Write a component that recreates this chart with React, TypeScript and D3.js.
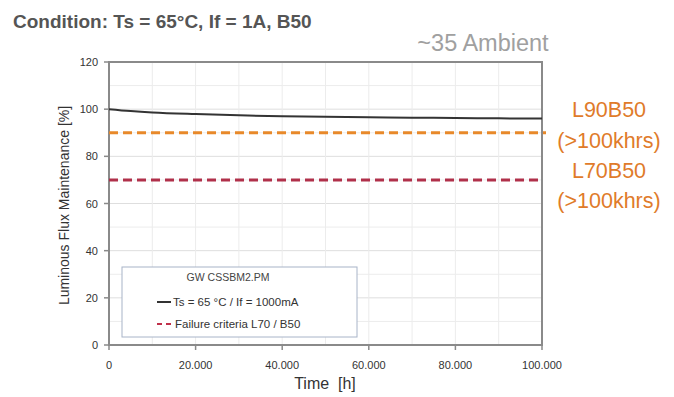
import React from "react";
import * as d3 from "d3";

const hours = [0, 5000, 10000, 20000, 30000, 40000, 50000, 60000, 70000, 80000, 90000, 100000];
const flux = [100, 99.2, 98.6, 97.9, 97.4, 97.0, 96.8, 96.6, 96.4, 96.3, 96.1, 96.0];
const xTicks = [0, 20000, 40000, 60000, 80000, 100000];
const yTicks = [0, 20, 40, 60, 80, 100, 120];
const l90 = 90;
const l70 = 70;

const W = 674, H = 397;
const M = { left: 109, right: 542, top: 62, bottom: 345 };

export default function App() {
  const x = d3.scaleLinear().domain([0, 100000]).range([M.left, M.right]);
  const y = d3.scaleLinear().domain([0, 120]).range([M.bottom, M.top]);
  const line = d3.line<number>().x((_, i) => x(hours[i])).y((d) => y(d)).curve(d3.curveMonotoneX);
  const fmt = (v: number) => (v === 0 ? "0" : d3.format(",")(v).replace(/,/g, "."));
  const minorY = d3.range(0, 121, 10);
  const minorX = d3.range(0, 100001, 10000);
  return (
    <svg width={W} height={H} style={{ position: "absolute", left: 0, top: 0, background: "#fff" }} fontFamily="Arial, 'Liberation Sans', sans-serif">
      <rect width={W} height={H} fill="#fff" />
      <text x={13} y={28} fontSize={19} fontWeight="bold" fill="#555">Condition: Ts = 65°C, If = 1A, B50</text>
      <text x={483} y={51} fontSize={23.5} fill="#a0a0a0" textAnchor="middle">~35 Ambient</text>
      {/* grid */}
      {minorY.map((v) => (
        <line key={"gy" + v} x1={M.left} x2={M.right} y1={y(v)} y2={y(v)} stroke={v % 20 === 0 ? "#dedede" : "#ececec"} strokeWidth={1} />
      ))}
      {minorX.map((v) => (
        <line key={"gx" + v} x1={x(v)} x2={x(v)} y1={M.top} y2={M.bottom} stroke="#ececec" strokeWidth={1} />
      ))}
      {/* frame */}
      <rect x={M.left} y={M.top} width={M.right - M.left} height={M.bottom - M.top} fill="none" stroke="#8a8a8a" strokeWidth={2} />
      {/* ticks */}
      {yTicks.map((v) => (
        <g key={"yt" + v}>
          <line x1={M.left - 5} x2={M.left} y1={y(v)} y2={y(v)} stroke="#8a8a8a" strokeWidth={1.5} />
          <text x={M.left - 11} y={y(v) + 4} fontSize={11} fill="#333" textAnchor="end">{v}</text>
        </g>
      ))}
      {xTicks.map((v) => (
        <g key={"xt" + v}>
          <line x1={x(v)} x2={x(v)} y1={M.bottom} y2={M.bottom + 5} stroke="#8a8a8a" strokeWidth={1.5} />
          <text x={x(v)} y={M.bottom + 24} fontSize={11} fill="#333" textAnchor="middle">{fmt(v)}</text>
        </g>
      ))}
      {/* threshold lines */}
      <line x1={M.left} x2={M.right + 4} y1={y(l90)} y2={y(l90)} stroke="#e8892a" strokeWidth={3} strokeDasharray="9,5" />
      <line x1={M.left} x2={M.right} y1={y(l70)} y2={y(l70)} stroke="#b0304a" strokeWidth={3} strokeDasharray="9,5" />
      {/* data */}
      <path d={line(flux) || ""} fill="none" stroke="#333" strokeWidth={2} />
      {/* right labels */}
      <g fontSize={21.5} fill="#e07b2a" textAnchor="middle">
        <text x={609} y={117}>L90B50</text>
        <text x={609} y={148}>(&gt;100khrs)</text>
        <text x={609} y={178}>L70B50</text>
        <text x={609} y={208}>(&gt;100khrs)</text>
      </g>
      {/* axis labels */}
      <text transform={`translate(69,${(M.top + M.bottom) / 2 + 2}) rotate(-90)`} fontSize={14} fill="#333" textAnchor="middle">Luminous Flux Maintenance [%]</text>
      <text x={325} y={389} fontSize={16} fill="#333" textAnchor="middle" xmlSpace="preserve">Time  [h]</text>
      {/* legend */}
      <rect x={122} y={267} width={235} height={70} fill="#fff" stroke="#a8b4c8" strokeWidth={1} />
      <text x={228} y={281} fontSize={10.5} fill="#444" textAnchor="middle">GW CSSBM2.PM</text>
      <line x1={157} x2={171} y1={302} y2={302} stroke="#333" strokeWidth={2} />
      <text x={173} y={306} fontSize={11.5} fill="#333">Ts  = 65 °C / If  = 1000mA</text>
      <line x1={157} x2={173} y1={324} y2={324} stroke="#c0304a" strokeWidth={2} strokeDasharray="5,4" />
      <text x={175} y={328} fontSize={11.5} fill="#333">Failure criteria  L70 / B50</text>
    </svg>
  );
}
